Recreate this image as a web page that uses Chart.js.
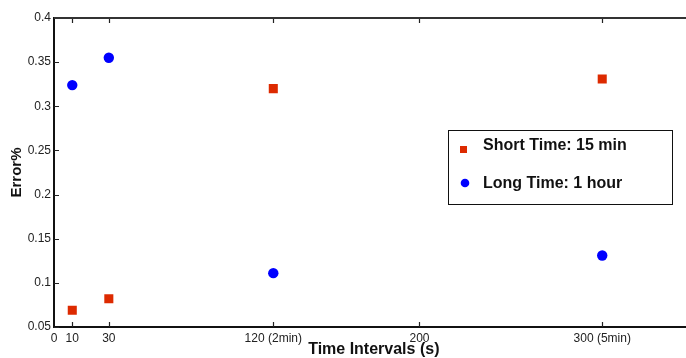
<!DOCTYPE html>
<html>
<head>
<meta charset="utf-8">
<script src="https://cdn.jsdelivr.net/npm/chart.js@4/dist/chart.umd.min.js"></script>
<style>
    html, body { margin: 0; padding: 0; background: #fff; overflow: hidden; }
    #wrap { width: 700px; height: 358px; }
</style>
</head>
<body>
<div id="wrap"><canvas id="grafica"></canvas></div>
<script>
// ── Datos ──
const intervalos   = [10, 30, 120, 300];
const errorCorto   = [0.069, 0.082, 0.320, 0.331];  // Short Time: 15 min
const errorLargo   = [0.324, 0.355, 0.111, 0.131];  // Long Time: 1 hour
const xTicks       = [0, 10, 30, 120, 200, 300];
const xTickLabels  = ['0', '10', '30', '120 (2min)', '200', '300 (5min)'];
const yTicks       = [0.05, 0.1, 0.15, 0.2, 0.25, 0.3, 0.35, 0.4];
const serieNombres = ['Short Time: 15 min', 'Long Time: 1 hour'];

const ROJO = 'rgb(221,42,0)';
const AZUL = 'rgb(0,0,255)';
const FUENTE = '"Liberation Sans", Arial, sans-serif';

const toPts = (xs, ys) => xs.map((x, i) => ({ x, y: ys[i] }));

// ── Ticks hacia adentro + línea superior ──
const ticksAdentro = {
    id: 'ticksAdentro',
    afterDraw(chart) {
        const { ctx, chartArea: a, scales: { x, y } } = chart;
        ctx.save();
        ctx.strokeStyle = '#222';
        ctx.lineWidth = 1.2;
        ctx.beginPath();
        xTicks.forEach(v => {
            const px = Math.round(x.getPixelForValue(v)) + 0.5;
            if (v === 0) return;
            ctx.moveTo(px, a.bottom); ctx.lineTo(px, a.bottom - 5);
            ctx.moveTo(px, a.top);    ctx.lineTo(px, a.top + 5);
        });
        yTicks.forEach(v => {
            const py = Math.round(y.getPixelForValue(v)) + 0.5;
            ctx.moveTo(a.left, py); ctx.lineTo(a.left + 5, py);
        });
        ctx.stroke();
        // línea superior
        ctx.lineWidth = 2;
        ctx.strokeStyle = '#333';
        ctx.beginPath();
        ctx.moveTo(a.left, a.top); ctx.lineTo(a.right, a.top);
        ctx.stroke();
        ctx.restore();
    }
};

// ── Leyenda en caja (como en la figura) ──
const leyendaCaja = {
    id: 'leyendaCaja',
    afterDraw(chart) {
        const { ctx } = chart;
        ctx.save();
        ctx.fillStyle = '#fff';
        ctx.fillRect(448.5, 130.5, 224, 74);
        ctx.strokeStyle = '#111';
        ctx.lineWidth = 1;
        ctx.strokeRect(448.5, 130.5, 224, 74);

        ctx.fillStyle = ROJO;
        ctx.fillRect(460, 146, 7, 7);
        ctx.fillStyle = AZUL;
        ctx.beginPath();
        ctx.arc(465, 183, 4.3, 0, Math.PI * 2);
        ctx.fill();

        ctx.fillStyle = '#111';
        ctx.font = 'bold 16px ' + FUENTE;
        ctx.textBaseline = 'middle';
        ctx.fillText(chart.data.datasets[0].label, 483, 146);
        ctx.fillText(chart.data.datasets[1].label, 483, 184);
        ctx.restore();
    }
};

new Chart(document.getElementById('grafica'), {
    type: 'scatter',
    data: {
        datasets: [
            { label: serieNombres[0], data: toPts(intervalos, errorCorto),
              pointStyle: 'rect', pointRadius: 6.4, pointHoverRadius: 6.4,
              backgroundColor: ROJO, borderColor: ROJO, borderWidth: 0 },
            { label: serieNombres[1], data: toPts(intervalos, errorLargo),
              pointStyle: 'circle', pointRadius: 5.2, pointHoverRadius: 5.2,
              backgroundColor: AZUL, borderColor: AZUL, borderWidth: 0 }
        ]
    },
    options: {
        responsive: true,
        maintainAspectRatio: false,
        animation: false,
        layout: { padding: { top: 18, right: 6, left: 0, bottom: 0 } },
        plugins: { legend: { display: false }, tooltip: { enabled: false } },
        scales: {
            x: {
                type: 'linear', min: 0, max: 350,
                afterBuildTicks: s => { s.ticks = xTicks.map(v => ({ value: v })); },
                afterFit: s => { s.height = 31; },
                ticks: {
                    autoSkip: false, maxRotation: 0, padding: 4, color: '#222',
                    font: { family: FUENTE, size: 12 },
                    callback: v => xTickLabels[xTicks.indexOf(v)]
                },
                grid: { drawOnChartArea: false, drawTicks: false, tickLength: 0 },
                border: { display: true, color: '#111', width: 2 },
                title: { display: true, text: 'Time Intervals (s)', color: '#111',
                         font: { family: FUENTE, size: 16, weight: 'bold' },
                         padding: { top: 0, bottom: -1 } }
            },
            y: {
                min: 0.05, max: 0.4,
                afterBuildTicks: s => { s.ticks = yTicks.map(v => ({ value: v })); },
                afterFit: s => { s.width = 54; },
                ticks: {
                    padding: 3, color: '#222',
                    font: { family: FUENTE, size: 12 },
                    callback: v => String(+v.toFixed(2))
                },
                grid: { drawOnChartArea: false, drawTicks: false, tickLength: 0 },
                border: { display: true, color: '#111', width: 2 },
                title: { display: true, text: 'Error%', color: '#111',
                         font: { family: FUENTE, size: 15, weight: 'bold' },
                         padding: { top: 8, bottom: 0 } }
            }
        }
    },
    plugins: [ticksAdentro, leyendaCaja]
});
</script>
</body>
</html>
